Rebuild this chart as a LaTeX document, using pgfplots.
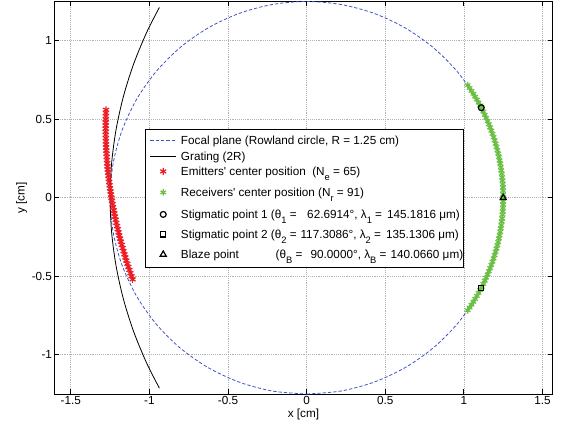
\documentclass[border=0pt]{standalone}
\usepackage{fontspec}
\setmainfont{Liberation Sans}
\newfontfamily\apos{Liberation Sans}
\usepackage{pgfplots}
\pgfplotsset{compat=1.18}
\definecolor{rowblue}{rgb}{0.25,0.33,0.78}
\definecolor{emred}{rgb}{0.93,0.11,0.14}
\definecolor{recgreen}{rgb}{0.42,0.75,0.27}
\newcommand\sub[1]{\raisebox{-3.5pt}{\fontsize{7}{7}\selectfont #1}}
\newcommand\seg[2]{\makebox[#1][l]{#2}}
\pgfplotsset{
  lineleg/.style 2 args={legend image code/.code={\path[draw=none,fill=none] (0pt,-#2) rectangle (26.6pt,#1);\draw[##1] (3.75pt,3.1pt) -- (22.5pt,3.1pt);}},
  markleg/.style 2 args={legend image code/.code={\path[draw=none,fill=none] (0pt,-#2) rectangle (26.6pt,#1);\draw[##1] plot coordinates {(13.3pt,3.1pt)};}},
}
\begin{document}
\begin{tikzpicture}
\begin{axis}[
  at={(0,0)}, anchor=south west,
  scale only axis, width=373.8pt, height=294.4pt,
  xmin=-1.605, xmax=1.565, ymin=-1.25, ymax=1.25,
  xtick={-1.5,-1,-0.5,0,0.5,1,1.5}, ytick={-1,-0.5,0,0.5,1},
  xtick pos=both, ytick pos=both,
  tick align=inside, major tick length=3.5pt,
  grid=major, grid style={densely dotted, gray!60, line width=0.5pt},
  axis line style={line width=0.75pt},
  tick style={line width=0.6pt, black},
  font=\fontsize{8.8}{10.5}\selectfont,
  /pgf/number format/assume math mode=true,
  tick label style={inner sep=1.5pt},
  xlabel={x [cm]}, ylabel={y [cm]},
  xlabel style={at={(axis description cs:0.5,-0.0523)}, anchor=center},
  ylabel style={at={(axis description cs:-0.0655,0.5)}, anchor=center},
  legend style={at={(axis description cs:0.182,0.674)}, anchor=north west,
    draw=black, line width=0.75pt, fill=white,
    inner xsep=0pt, inner ysep=0pt,
    font=\fontsize{8.8}{10.5}\selectfont,
    cells={anchor=base west},
    nodes={inner sep=0pt}},
]
\addplot[rowblue, dash pattern=on 2.5pt off 1.5pt, line width=0.6pt, smooth, lineleg={10.95pt}{2.9pt}] coordinates {
(0,-1.25) (0.2171,-1.2310) (0.4275,-1.1746) (0.625,-1.0825) (0.8035,-0.9576)
(0.9576,-0.8035) (1.0825,-0.625) (1.1746,-0.4275) (1.2310,-0.2171) (1.25,0)
(1.2310,0.2171) (1.1746,0.4275) (1.0825,0.625) (0.9576,0.8035) (0.8035,0.9576)
(0.625,1.0825) (0.4275,1.1746) (0.2171,1.2310) (0,1.25) (-0.2171,1.2310)
(-0.4275,1.1746) (-0.625,1.0825) (-0.8035,0.9576) (-0.9576,0.8035) (-1.0825,0.625)
(-1.1746,0.4275) (-1.2310,0.2171) (-1.25,0) (-1.2310,-0.2171) (-1.1746,-0.4275)
(-1.0825,-0.625) (-0.9576,-0.8035) (-0.8035,-0.9576) (-0.625,-1.0825) (-0.4275,-1.1746)
(-0.2171,-1.2310) (0,-1.25)};
\addlegendentry{Focal plane (Rowland circle, R = 1.25 cm)}
\addplot[black, line width=0.6pt, smooth, lineleg={9.1pt}{2.55pt}] coordinates {
(-0.9366,-1.2120) (-1.0158,-1.0565) (-1.0992,-0.8551) (-1.1648,-0.6470) (-1.2120,-0.4341)
(-1.2405,-0.2179) (-1.25,0) (-1.2405,0.2179) (-1.2120,0.4341) (-1.1648,0.6470)
(-1.0992,0.8551) (-1.0158,1.0565) (-0.9366,1.2120)};
\addlegendentry{Grating (2R)}
\addplot[only marks, mark=asterisk, mark size=2.6pt, color=emred, mark options={line width=0.9pt}, markleg={8.7pt}{4.8pt}] coordinates {
(-1.2758,0.56) (-1.2765,0.54) (-1.2771,0.52) (-1.2775,0.50) (-1.2778,0.48)
(-1.2780,0.46) (-1.2780,0.44) (-1.2778,0.42) (-1.2775,0.40) (-1.2771,0.38)
(-1.2765,0.36) (-1.2758,0.34) (-1.2749,0.32) (-1.2739,0.30) (-1.2727,0.28)
(-1.2714,0.26) (-1.2700,0.24) (-1.2684,0.22) (-1.2666,0.20) (-1.2647,0.18)
(-1.2627,0.16) (-1.2605,0.14) (-1.2582,0.12) (-1.2557,0.10) (-1.2531,0.08)
(-1.2503,0.06) (-1.2474,0.04) (-1.2443,0.02) (-1.2411,0.00) (-1.2378,-0.02)
(-1.2343,-0.04) (-1.2307,-0.06) (-1.2269,-0.08) (-1.2229,-0.10) (-1.2189,-0.12)
(-1.2146,-0.14) (-1.2103,-0.16) (-1.2058,-0.18) (-1.2011,-0.20) (-1.1963,-0.22)
(-1.1913,-0.24) (-1.1863,-0.26) (-1.1810,-0.28) (-1.1756,-0.30) (-1.1701,-0.32)
(-1.1644,-0.34) (-1.1586,-0.36) (-1.1526,-0.38) (-1.1465,-0.40) (-1.1402,-0.42)
(-1.1338,-0.44) (-1.1273,-0.46) (-1.1206,-0.48) (-1.1137,-0.50) (-1.1068,-0.52)};
\addlegendentry{Emitters{\apos'} center position\ \ (N\sub{e} = 65)}
\addplot[only marks, mark=asterisk, mark size=2.4pt, color=recgreen, mark options={line width=0.9pt}, markleg={10.95pt}{5.2pt}] coordinates {
(1.0239,0.7170) (1.0363,0.6990) (1.0483,0.6808) (1.0601,0.6624) (1.0715,0.6438)
(1.0825,0.6250) (1.0933,0.6060) (1.1037,0.5868) (1.1138,0.5675) (1.1235,0.5480)
(1.1329,0.5283) (1.1419,0.5084) (1.1506,0.4884) (1.1590,0.4683) (1.1670,0.4480)
(1.1746,0.4275) (1.1819,0.4070) (1.1888,0.3863) (1.1954,0.3655) (1.2016,0.3445)
(1.2074,0.3235) (1.2129,0.3024) (1.2180,0.2812) (1.2227,0.2599) (1.2270,0.2385)
(1.2310,0.2171) (1.2346,0.1955) (1.2378,0.1740) (1.2407,0.1523) (1.2432,0.1307)
(1.2452,0.1089) (1.2470,0.0872) (1.2483,0.0654) (1.2492,0.0436) (1.2498,0.0218)
(1.2500,0)
(1.2498,-0.0218) (1.2492,-0.0436) (1.2483,-0.0654) (1.2470,-0.0872) (1.2452,-0.1089)
(1.2432,-0.1307) (1.2407,-0.1523) (1.2378,-0.1740) (1.2346,-0.1955) (1.2310,-0.2171)
(1.2270,-0.2385) (1.2227,-0.2599) (1.2180,-0.2812) (1.2129,-0.3024) (1.2074,-0.3235)
(1.2016,-0.3445) (1.1954,-0.3655) (1.1888,-0.3863) (1.1819,-0.4070) (1.1746,-0.4275)
(1.1670,-0.4480) (1.1590,-0.4683) (1.1506,-0.4884) (1.1419,-0.5084) (1.1329,-0.5283)
(1.1235,-0.5480) (1.1138,-0.5675) (1.1037,-0.5868) (1.0933,-0.6060) (1.0825,-0.6250)
(1.0715,-0.6438) (1.0601,-0.6624) (1.0483,-0.6808) (1.0363,-0.6990) (1.0239,-0.7170)};
\addlegendentry{Receivers{\apos'} center position (N\sub{r} = 91)}
\addplot[only marks, mark=o, mark size=2.2pt, black, line width=0.9pt, markleg={11.3pt}{4.4pt}] coordinates {(1.1106,0.5735)};
\addlegendentry{\seg{67.5pt}{Stigmatic point 1}\seg{27.2pt}{(θ\sub{1} =}62.6914°, \seg{19.7pt}{λ\sub{1} =}145.1816 μm)}
\addplot[only marks, mark=square, mark size=1.9pt, black, line width=0.9pt, markleg={10.6pt}{4.4pt}] coordinates {(1.1106,-0.5735)};
\addlegendentry{\seg{67.5pt}{Stigmatic point 2}\seg{22.2pt}{(θ\sub{2} =}117.3086°, \seg{19.7pt}{λ\sub{2} =}135.1306 μm)}
\addplot[only marks, mark=triangle, mark size=2.6pt, black, line width=0.9pt, markleg={10.6pt}{7.05pt}] coordinates {(1.25,0)};
\addlegendentry{\seg{71pt}{Blaze point}\seg{26.25pt}{(θ\sub{B} =}90.0000°, \seg{19.7pt}{λ\sub{B} =}140.0660 μm)\hspace{1.75pt}}
\end{axis}
\pgfresetboundingbox
\path (-40.7pt,-26.25pt) rectangle (384.5pt,295.5pt);
\end{tikzpicture}
\end{document}
